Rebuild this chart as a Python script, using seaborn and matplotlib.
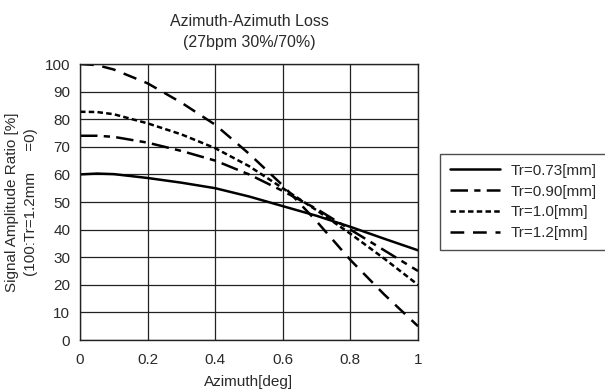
import numpy as np
import pandas as pd
import matplotlib
matplotlib.use("Agg")
import matplotlib.pyplot as plt
import seaborn as sns

# azimuth [deg]
azimuth = [0.0, 0.05, 0.1, 0.2, 0.3, 0.4, 0.5, 0.6, 0.7, 0.8, 0.9, 1.0]

# signal amplitude ratio [%] per track width
tr_073 = [60.0, 60.3, 60.1, 58.7, 57.0, 55.0, 52.0, 48.5, 45.0, 41.0, 36.7, 32.5]
tr_090 = [74.0, 74.0, 73.6, 71.5, 68.5, 65.0, 60.0, 54.0, 47.5, 40.0, 32.5, 25.0]
tr_100 = [82.7, 82.6, 81.8, 78.5, 74.5, 69.5, 63.0, 55.0, 47.0, 38.5, 29.5, 20.0]
tr_120 = [100.0, 99.6, 98.0, 93.0, 86.0, 78.0, 67.5, 56.0, 43.0, 29.0, 16.5, 5.0]

labels = ["Tr=0.73[mm]", "Tr=0.90[mm]", "Tr=1.0[mm]", "Tr=1.2[mm]"]
series = [tr_073, tr_090, tr_100, tr_120]

df = pd.concat(
    [pd.DataFrame({"azimuth": azimuth, "ratio": vals, "track": lab})
     for lab, vals in zip(labels, series)],
    ignore_index=True,
)

sns.set_style("white")
plt.rcParams["font.family"] = ["Liberation Sans", "DejaVu Sans"]
txt = "#2a2a2a"

fig = plt.figure(figsize=(6.05, 3.92), dpi=100)
ax = fig.add_axes([80 / 605, 1 - 340 / 392, 338 / 605, 276 / 392])

dashes = {
    "Tr=0.73[mm]": "",
    "Tr=0.90[mm]": (7, 2.5, 2.5, 2.5),
    "Tr=1.0[mm]": (2.2, 1.3),
    "Tr=1.2[mm]": (5.5, 3.5),
}
sns.lineplot(data=df, x="azimuth", y="ratio", style="track", dashes=dashes,
             color="black", linewidth=1.8, ax=ax, legend=True)

ax.set_xlim(0, 1)
ax.set_ylim(0, 100)
ax.set_xticks([0, 0.2, 0.4, 0.6, 0.8, 1])
ax.set_xticklabels(["0", "0.2", "0.4", "0.6", "0.8", "1"])
ax.set_yticks(range(0, 101, 10))
ax.grid(True, color="#222222", linewidth=0.9)
for s in ax.spines.values():
    s.set_color("#222222")
    s.set_linewidth(1.0)
ax.tick_params(axis="both", labelsize=11, length=0, colors=txt)
ax.tick_params(axis="x", pad=9)
ax.tick_params(axis="y", pad=7)

ax.set_xlabel("Azimuth[deg]", fontsize=11, color=txt, labelpad=6)
ax.set_ylabel("Signal Amplitude Ratio [%]\n(100:Tr=1.2mm     =0)", fontsize=11,
              color=txt, labelpad=5, linespacing=1.45)
ax.set_title("Azimuth-Azimuth Loss\n(27bpm 30%/70%)", fontsize=11.5,
             color=txt, pad=12, linespacing=1.55)

leg = ax.legend(loc="center left", bbox_to_anchor=(1.065, 0.5), frameon=True,
                fancybox=False, fontsize=11, handlelength=3.3,
                borderpad=0.65, labelspacing=0.45, handletextpad=0.7,
                borderaxespad=0.0)
leg.get_frame().set_edgecolor("#222222")
leg.get_frame().set_linewidth(1.0)
leg.set_title(None)
for t in leg.get_texts():
    t.set_color(txt)

fig.savefig("out.png", dpi=100)
